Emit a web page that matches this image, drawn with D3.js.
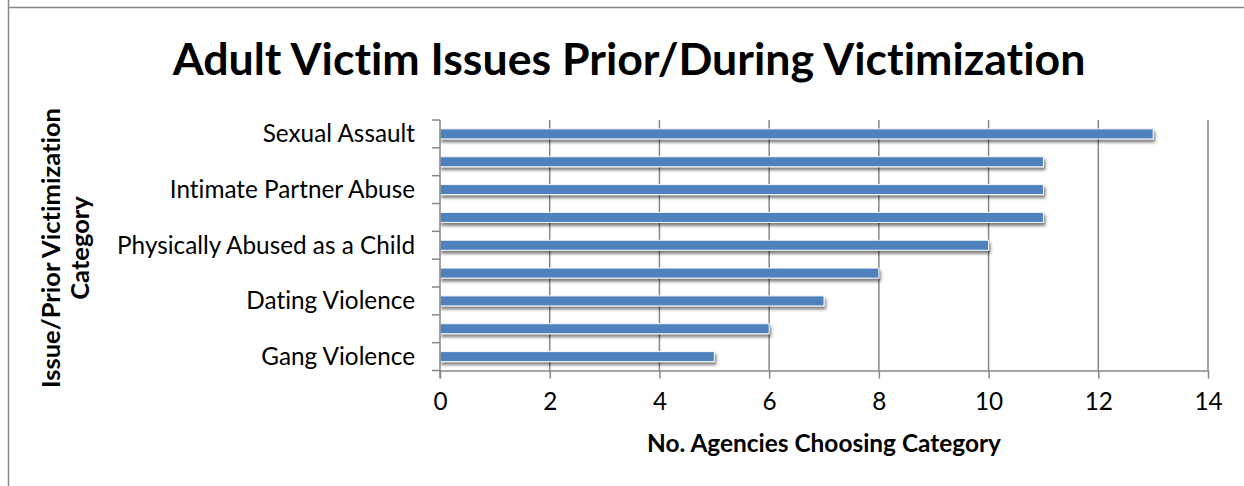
<!DOCTYPE html>
<html>
<head>
<meta charset="utf-8">
<script src="https://cdn.jsdelivr.net/npm/d3@7"></script>
<style>
  html, body { margin: 0; padding: 0; background: #fff; }
  svg { display: block; }
  text { font-family: Lato, "Open Sans", sans-serif; fill: #000; font-variant-ligatures: none; font-feature-settings: "liga" 0, "clig" 0; }
</style>
</head>
<body>
<svg id="chart" width="1244" height="486"></svg>
<script>
// ---- data ----
const titleText = "Adult Victim Issues Prior/During Victimization";
const categories = ["Sexual Assault", "", "Intimate Partner Abuse", "", "Physically Abused as a Child", "", "Dating Violence", "", "Gang Violence"];
const values = [13, 11, 11, 11, 10, 8, 7, 6, 5];
const xTicks = [0, 2, 4, 6, 8, 10, 12, 14];
const xTitle = "No. Agencies Choosing Category";
const yTitleLines = ["Issue/Prior Victimization", "Category"];

(function () {
// ---- layout ----
const svg = d3.select("#chart");
const W = 1244, H = 486;
const pL = 440, pR = 1208, pT = 120, pB = 370.5;
const gridColor = "#878787";

const x = d3.scaleLinear().domain([0, 14]).range([pL, pR]);
const y = d3.scaleBand().domain(d3.range(categories.length)).range([pT, pB]).paddingInner(0.64).paddingOuter(0.32);

function fit(sel, target) {
  const fs = parseFloat(sel.attr("font-size"));
  const w = sel.node().getComputedTextLength();
  sel.attr("font-size", (fs * target / w).toFixed(2));
}

// frame
svg.append("line").attr("x1", 8).attr("x2", W).attr("y1", 7.5).attr("y2", 7.5).attr("stroke", gridColor).attr("stroke-width", 1.5);
svg.append("line").attr("x1", 8.5).attr("x2", 8.5).attr("y1", 0).attr("y2", H).attr("stroke", gridColor).attr("stroke-width", 1.5);

// shadow filter
const defs = svg.append("defs");
const f = defs.append("filter").attr("id", "shadow").attr("x", "-5%").attr("y", "-60%").attr("width", "110%").attr("height", "240%");
f.append("feDropShadow").attr("dx", 1.5).attr("dy", 3).attr("stdDeviation", 1.8).attr("flood-color", "#000").attr("flood-opacity", 0.5);

// title
const t = svg.append("text").attr("x", 629).attr("y", 75).attr("text-anchor", "middle")
  .attr("font-weight", "bold").attr("font-size", 40).text(titleText);
fit(t, 913);

// gridlines
svg.append("g").selectAll("line").data(xTicks.filter(d => d > 0)).join("line")
  .attr("x1", d => x(d)).attr("x2", d => x(d)).attr("y1", pT).attr("y2", pB)
  .attr("stroke", gridColor).attr("stroke-width", 1.5);

// bars
svg.append("g").selectAll("rect").data(values).join("rect")
  .attr("x", x(0)).attr("y", (d, i) => y(i))
  .attr("width", d => x(d) - x(0)).attr("height", y.bandwidth())
  .attr("fill", "#4F81BD").attr("stroke", "#f4f8fc").attr("stroke-width", 1)
  .attr("filter", "url(#shadow)");

// x axis
const xAxis = svg.append("g").attr("transform", `translate(0,${pB})`)
  .call(d3.axisBottom(x).tickValues(xTicks).tickSize(8).tickPadding(14).tickSizeOuter(0));
xAxis.select(".domain").attr("stroke", gridColor).attr("stroke-width", 1.5);
xAxis.selectAll(".tick line").attr("stroke", gridColor).attr("stroke-width", 1.5);
xAxis.selectAll(".tick text").attr("font-size", 21).attr("font-family", "Lato, sans-serif").attr("fill", "#000");

// y axis (category boundaries)
const yAxisG = svg.append("g");
yAxisG.append("line").attr("x1", pL).attr("x2", pL).attr("y1", pT).attr("y2", pB + 8)
  .attr("stroke", gridColor).attr("stroke-width", 1.5);
const bounds = d3.range(categories.length + 1).map(i => pT + i * y.step());
yAxisG.selectAll("line.tk").data(bounds).join("line").attr("class", "tk")
  .attr("x1", pL - 8).attr("x2", pL).attr("y1", d => d).attr("y2", d => d)
  .attr("stroke", gridColor).attr("stroke-width", 1.5);
const labs = yAxisG.selectAll("text").data(categories).join("text")
  .attr("x", 415).attr("y", (d, i) => y(i) + y.bandwidth() / 2)
  .attr("dy", "0.35em").attr("text-anchor", "end").attr("font-size", 21).text(d => d);
const longest = labs.filter((d, i) => i === 4);
const fs0 = 21, w0 = longest.node().getComputedTextLength();
const fsL = (fs0 * 298 / w0).toFixed(2);
labs.attr("font-size", fsL);
xAxis.selectAll(".tick text").attr("font-size", fsL);

// axis titles
const xt = svg.append("text").attr("x", 824).attr("y", 452).attr("text-anchor", "middle")
  .attr("font-weight", "bold").attr("font-size", 18).text(xTitle);
fit(xt, 354);

const yt = svg.append("g").attr("transform", "translate(0,248) rotate(-90)");
const yl1 = yt.append("text").attr("x", 0).attr("y", 60).attr("text-anchor", "middle")
  .attr("font-weight", "bold").attr("font-size", 18).text(yTitleLines[0]);
fit(yl1, 280);
yt.append("text").attr("x", 0).attr("y", 89).attr("text-anchor", "middle")
  .attr("font-weight", "bold").attr("font-size", yl1.attr("font-size")).text(yTitleLines[1]);
})();
</script>
</body>
</html>
